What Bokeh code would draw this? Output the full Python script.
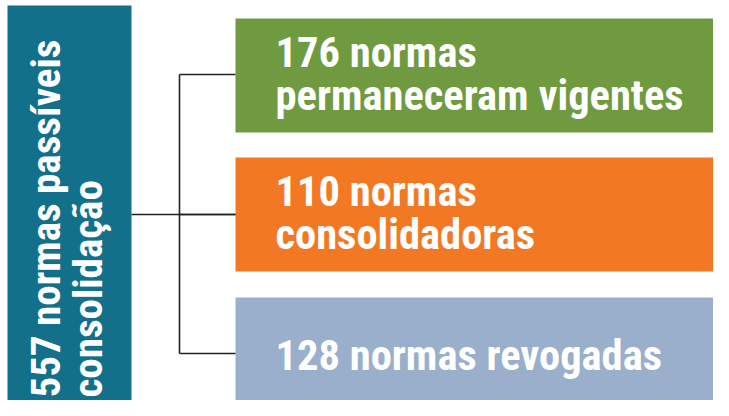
from bokeh.plotting import figure
from bokeh.models import Range1d, ColumnDataSource
from bokeh.core.properties import value
from bokeh.embed import file_html
from bokeh.resources import INLINE
import math

# ---- data ----
total = 557
total_lines = [f"{total} normas passíveis", "consolidação"]
counts = [176, 110, 128]
line1 = [f"{counts[0]} normas", f"{counts[1]} normas", f"{counts[2]} normas revogadas"]
line2 = ["permaneceram vigentes", "consolidadoras", ""]
box_colors = ["#6F9A3F", "#F37823", "#99AFCB"]
main_color = "#13708A"

# ---- layout (reference pixel space) ----
FONT = "Roboto Condensed"
FS = "42.5px"
FS_MAIN = "41px"
BASE_SHIFT = 15  # correction for rendered baseline position
box_left, box_right = 235, 760
box_tops = [18, 157, 297]
box_h = 114
main_l, main_r, main_t, main_b = 7, 131, 5, 430
trunk_x = 179
mid_y = 214

p = figure(width=713, height=400, output_backend="svg", toolbar_location=None,
           x_range=Range1d(0, 713), y_range=Range1d(400, 0), min_border=0)
p.axis.visible = False
p.grid.visible = False
p.outline_line_color = None
p.background_fill_color = "white"
p.border_fill_color = "white"

# main box
p.quad(left=[main_l], right=[main_r], top=[main_t], bottom=[main_b],
       fill_color=main_color, line_color=None)

# category boxes
tops = box_tops
bottoms = [t + box_h for t in tops]
src = ColumnDataSource(dict(left=[box_left] * 3, right=[box_right] * 3, top=tops,
                            bottom=bottoms, color=box_colors))
p.quad(left="left", right="right", top="top", bottom="bottom",
       fill_color="color", line_color=None, source=src)

# connectors
centers = [74, 214, 353]
xs = [[main_r, box_left], [trunk_x, trunk_x]] + [[trunk_x, box_left] for _ in centers]
ys = [[mid_y, mid_y], [centers[0], centers[-1]]] + [[c, c] for c in centers]
p.multi_line(xs=xs, ys=ys, line_color="#222222", line_width=1.6)

# box texts
tx, ty = [], []
for i, t in enumerate(tops):
    if line2[i]:
        tx += [275, 275]
        ty += [t + 49 - BASE_SHIFT, t + 92 - BASE_SHIFT]
    else:
        tx += [275]
        ty += [t + 73 - BASE_SHIFT]
texts = []
for a, b in zip(line1, line2):
    texts.append(a)
    if b:
        texts.append(b)
p.text(x=tx, y=ty, text=texts, text_color="white", text_font=value(FONT),
       text_font_style="bold", text_font_size=FS, text_baseline="alphabetic",
       text_align="left")

# rotated main text
p.text(x=[62 - BASE_SHIFT - 2, 104 - BASE_SHIFT - 2], y=[397, 397], text=total_lines,
       angle=math.pi / 2, text_color="white", text_font=value(FONT),
       text_font_style="bold", text_font_size=FS_MAIN, text_baseline="alphabetic",
       text_align="left")

open("out.html", "w").write(file_html(p, INLINE))
